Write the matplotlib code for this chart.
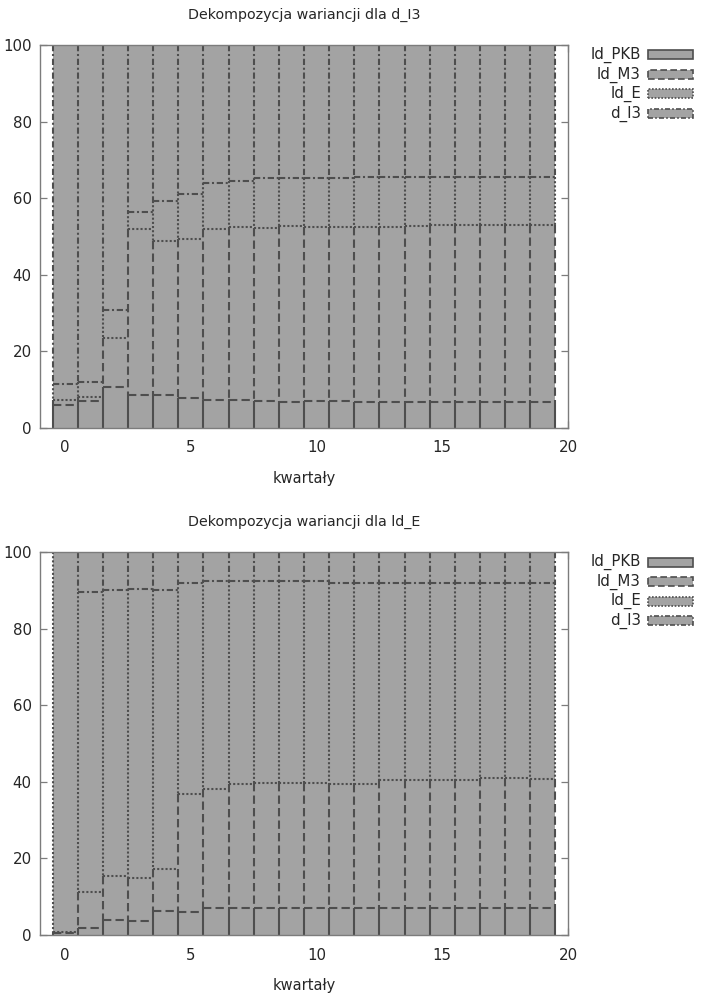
import numpy as np
import matplotlib
matplotlib.use('Agg')
import matplotlib.pyplot as plt
from matplotlib.patches import Rectangle

W, H = 709, 997

# kwartały 0..19
quarters = list(range(20))
series_names = ['ld_PKB', 'ld_M3', 'ld_E', 'd_I3']

# udziały (%) w dekompozycji wariancji dla d_I3
i3_pkb = [6.1, 7.0, 10.7, 8.7, 8.5, 7.8, 7.2, 7.2, 7.0, 6.9, 7.0, 7.0, 6.9, 6.9, 6.8, 6.8, 6.8, 6.8, 6.8, 6.8]
i3_m3 = [1.3, 1.1, 12.8, 43.3, 40.3, 41.5, 44.8, 45.2, 45.1, 45.9, 45.4, 45.4, 45.6, 45.7, 46.0, 46.2, 46.2, 46.3, 46.3, 46.2]
i3_e = [4.0, 3.9, 7.3, 4.4, 10.4, 11.9, 11.9, 12.1, 13.1, 12.6, 12.8, 12.9, 13.0, 12.9, 12.8, 12.6, 12.5, 12.5, 12.5, 12.6]
i3_i3 = [88.6, 88.0, 69.2, 43.6, 40.8, 38.8, 36.1, 35.5, 34.8, 34.6, 34.8, 34.7, 34.5, 34.5, 34.4, 34.4, 34.5, 34.4, 34.4, 34.4]

# udziały (%) w dekompozycji wariancji dla ld_E
e_pkb = [0.6, 1.7, 3.9, 3.7, 6.3, 6.0, 7.0, 7.0, 7.0, 7.0, 7.1, 7.1, 7.1, 7.1, 7.1, 7.1, 7.1, 7.1, 7.1, 7.1]
e_m3 = [0.2, 9.5, 11.4, 11.2, 11.0, 30.8, 31.0, 32.4, 32.6, 32.8, 32.6, 32.4, 32.4, 33.3, 33.3, 33.4, 33.5, 33.8, 33.8, 33.6]
e_e = [99.2, 78.4, 74.7, 75.4, 72.7, 55.2, 54.4, 53.0, 52.8, 52.7, 52.7, 52.5, 52.3, 51.4, 51.4, 51.3, 51.2, 50.9, 50.9, 51.1]
e_i3 = [0.0, 10.4, 10.0, 9.7, 10.0, 8.0, 7.6, 7.6, 7.6, 7.5, 7.6, 8.0, 8.2, 8.2, 8.2, 8.2, 8.2, 8.2, 8.2, 8.2]

FILL = '#a3a3a3'
EDGE = '#4e4e4e'
FRAME = '#7c7c7c'
TXT = '#262626'
styles = ['-', (0, (4, 2)), (0, (1, 1)), (0, (3, 1.3, 1, 1.3))]
LW = 1.5

plt.rcParams['font.family'] = 'DejaVu Sans'

fig = plt.figure(figsize=(W / 100, H / 100), dpi=100)


def fx(px):
    return px / W


def fy(py):
    return 1 - py / H


def draw_panel(top_px, bottom_px, title, data):
    ax = fig.add_axes([fx(40), fy(bottom_px), fx(568) - fx(40), fy(top_px) - fy(bottom_px)])
    x = np.array(quarters)
    base = np.zeros(len(x))
    for vals, ls in zip(data, styles):
        vals = np.array(vals)
        ax.bar(x, vals, width=1.0, bottom=base, color=FILL, linewidth=0)
        # krawędzie segmentów: dół i lewy bok (kolejny słupek nakrywa prawy bok)
        for i in range(len(x)):
            if vals[i] <= 0:
                continue
            x0, x1 = x[i] - 0.5, x[i] + 0.5
            y0, y1 = base[i], base[i] + vals[i]
            ax.plot([x0, x0], [y1, y0], color=EDGE, lw=LW, linestyle=ls, solid_capstyle='butt', dash_capstyle='butt')
            if y0 > 0:
                ax.plot([x0, x1], [y0, y0], color=EDGE, lw=LW, linestyle=ls, dash_capstyle='butt')
            if i == len(x) - 1:
                ax.plot([x1, x1], [y1, y0], color=EDGE, lw=LW, linestyle=ls, solid_capstyle='butt', dash_capstyle='butt')
        base = base + vals
    ax.set_xlim(-1, 20)
    ax.set_ylim(0, 100)
    ax.set_xticks([0, 5, 10, 15, 20])
    ax.set_yticks([0, 20, 40, 60, 80, 100])
    ax.set_axisbelow(True)
    ax.tick_params(direction='in', length=5, width=0.9, color=FRAME, labelsize=10.8,
                   labelcolor=TXT, right=True, top=True, pad=6)
    ax.tick_params(axis='x', pad=9)
    for sp in ax.spines.values():
        sp.set_color(FRAME)
        sp.set_linewidth(1.0)
        sp.set_zorder(5)
    ax.set_title(title, fontsize=10.3, color=TXT, pad=19)
    ax.set_xlabel('kwartały', fontsize=10.5, color=TXT, labelpad=11)

    # legenda po prawej stronie
    for k, (name, ls) in enumerate(zip(series_names, styles)):
        cy = top_px + 10 + 19.5 * k
        fig.text(fx(641), fy(cy), name, ha='right', va='center', fontsize=10.8, color=TXT)
        fig.patches.append(Rectangle((fx(648), fy(cy + 4.5)), fx(693) - fx(648), fy(cy - 4.5) - fy(cy + 4.5),
                                     transform=fig.transFigure, facecolor=FILL, edgecolor=EDGE,
                                     linewidth=1.2, linestyle=ls))
    return ax


draw_panel(45, 428, 'Dekompozycja wariancji dla d_I3', [i3_pkb, i3_m3, i3_e, i3_i3])
draw_panel(552, 935, 'Dekompozycja wariancji dla ld_E', [e_pkb, e_m3, e_e, e_i3])

fig.savefig('out.png', dpi=100, facecolor='white')
